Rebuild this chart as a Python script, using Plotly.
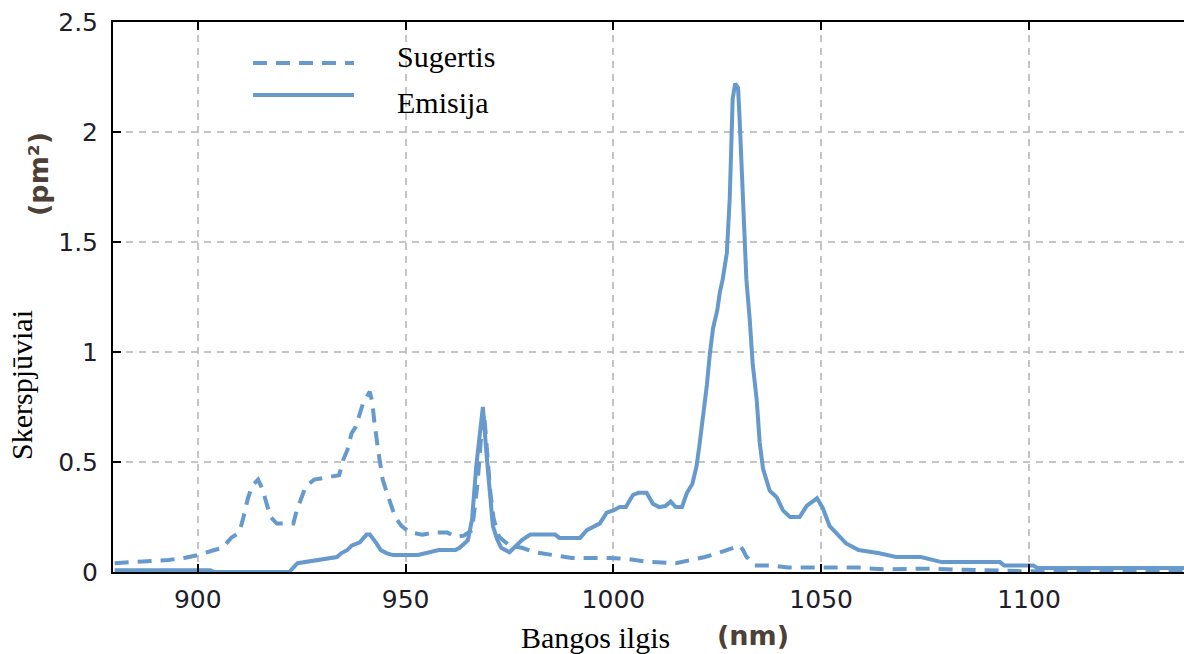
import plotly.graph_objects as go

# ---- data ----
abs_nm = [880, 886, 893, 897, 900, 904, 906, 908, 910, 911, 912, 913, 914.5, 915.5, 916.5, 917.5,
          919, 923, 923.8, 924.8, 926, 928, 931, 934, 935, 936, 937, 938, 939, 939.8, 941.4, 942,
          942.5, 943, 943.5, 944, 944.5, 945.5, 946.5, 947.5, 949, 951, 954, 957, 960, 962, 964,
          966, 967.3, 968.2, 968.9, 969.6, 970.4, 971.2, 972.5, 975, 978, 981, 985, 990, 999, 1003,
          1008, 1015, 1020, 1022, 1025, 1028, 1030.4, 1031.2, 1032, 1034, 1038, 1042, 1048, 1054,
          1059, 1065, 1075, 1085, 1095, 1100, 1110, 1137.5]
abs_val = [0.04, 0.045, 0.055, 0.065, 0.077, 0.10, 0.11, 0.155, 0.18, 0.25, 0.33, 0.39, 0.42, 0.38,
           0.31, 0.25, 0.22, 0.22, 0.28, 0.33, 0.39, 0.42, 0.43, 0.44, 0.51, 0.555, 0.63, 0.66, 0.72,
           0.77, 0.82, 0.77, 0.68, 0.59, 0.54, 0.48, 0.42, 0.36, 0.31, 0.25, 0.21, 0.18, 0.17, 0.18,
           0.18, 0.16, 0.165, 0.19, 0.40, 0.62, 0.72, 0.55, 0.36, 0.24, 0.16, 0.12, 0.11, 0.09, 0.077,
           0.064, 0.064, 0.06, 0.047, 0.04, 0.06, 0.068, 0.085, 0.105, 0.12, 0.10, 0.07, 0.03, 0.03,
           0.02, 0.02, 0.02, 0.02, 0.012, 0.015, 0.01, 0.008, 0.003, 0.0, 0.0]

em_nm = [880, 903, 904, 922, 924, 929, 931, 933.5, 934.5, 936, 937, 939, 940.6, 941.4, 943, 944,
         945.5, 947, 953, 955, 958, 962, 963, 965, 966, 967, 967.9, 968.6, 969.5, 970.3, 971, 972,
         973, 975, 976, 978, 980, 986, 987, 992, 993.6, 996.7, 998.4, 1000, 1001.5, 1003, 1004.7,
         1006, 1008, 1009.5, 1011, 1012.5, 1013.8, 1015, 1016.5, 1017.7, 1019, 1020, 1020.8, 1021.5,
         1022.5, 1023.2, 1024, 1025, 1025.6, 1026.3, 1027.3, 1028, 1028.4, 1028.7, 1029.3, 1030,
         1030.4, 1031, 1032, 1032.8, 1033.5, 1034.5, 1035.2, 1036, 1037.6, 1039.3, 1040.8, 1042.5,
         1044.8, 1046.5, 1049, 1050.4, 1052, 1054.5, 1056, 1059, 1064, 1068, 1074, 1079, 1093, 1094,
         1101, 1102, 1137.5]
em_val = [0.008, 0.008, 0.0, 0.0, 0.04, 0.055, 0.064, 0.068, 0.085, 0.10, 0.12, 0.135, 0.17, 0.17,
          0.13, 0.10, 0.085, 0.077, 0.077, 0.087, 0.10, 0.10, 0.11, 0.145, 0.24, 0.48, 0.65, 0.75,
          0.53, 0.33, 0.21, 0.15, 0.11, 0.09, 0.11, 0.145, 0.17, 0.17, 0.155, 0.155, 0.19, 0.22, 0.27,
          0.28, 0.295, 0.295, 0.35, 0.36, 0.36, 0.31, 0.295, 0.30, 0.32, 0.295, 0.295, 0.36, 0.40,
          0.48, 0.59, 0.69, 0.85, 0.99, 1.11, 1.19, 1.27, 1.33, 1.45, 1.70, 1.9, 2.15, 2.22, 2.2,
          2.05, 1.78, 1.33, 1.15, 0.95, 0.78, 0.59, 0.47, 0.37, 0.34, 0.28, 0.25, 0.25, 0.30, 0.335,
          0.29, 0.21, 0.16, 0.13, 0.10, 0.085, 0.068, 0.068, 0.045, 0.045, 0.03, 0.03, 0.018, 0.018]

series_names = ["Sugertis", "Emisija"]
x_ticks = [900, 950, 1000, 1050, 1100]
y_ticks = [0, 0.5, 1, 1.5, 2, 2.5]
y_tick_text = ["0", "0.5", "1", "1.5", "2", "2.5"]

BLUE = "#6699cc"
GRID = "#c4c4c4"
TICKFONT = dict(family="DejaVu Sans", size=25, color="#1e1e2a")

fig = go.Figure()
fig.add_trace(go.Scatter(x=abs_nm, y=abs_val, mode="lines", name=series_names[0],
                         line=dict(color=BLUE, width=4, dash="14px,9px"), showlegend=False))
fig.add_trace(go.Scatter(x=em_nm, y=em_val, mode="lines", name=series_names[1],
                         line=dict(color=BLUE, width=4), showlegend=False))

fig.update_layout(
    width=1184, height=654,
    margin=dict(l=113, r=0, t=22, b=82),
    paper_bgcolor="white", plot_bgcolor="white",
    xaxis=dict(range=[879.6, 1137.3], tickvals=x_ticks, ticks="inside", ticklen=8, tickwidth=2,
               tickcolor="black", showline=True, linecolor="black", linewidth=2, mirror="ticks",
               showgrid=True, gridcolor=GRID, gridwidth=1.5, griddash="7px,6px",
               zeroline=False, tickfont=TICKFONT, ticklabelstandoff=4),
    yaxis=dict(range=[0, 2.5], tickvals=y_ticks, ticktext=y_tick_text, ticks="inside", ticklen=8,
               tickwidth=2, tickcolor="black", showline=True, linecolor="black", linewidth=2,
               showgrid=True, gridcolor=GRID, gridwidth=1.5, griddash="7px,6px",
               zeroline=False, tickfont=TICKFONT, ticklabelstandoff=8),
)

# legend: white box + sample lines + labels
fig.add_shape(type="rect", xref="paper", yref="paper", layer="between",
              x0=(382 - 113) / 1071, x1=(590 - 113) / 1071, y0=(572 - 129) / 550, y1=(572 - 24) / 550,
              fillcolor="white", line=dict(width=0))
fig.add_shape(type="line", xref="paper", yref="paper",
              x0=(253 - 113) / 1071, x1=(354 - 113) / 1071, y0=(572 - 63) / 550, y1=(572 - 63) / 550,
              line=dict(color=BLUE, width=4, dash="14px,9px"))
fig.add_shape(type="line", xref="paper", yref="paper",
              x0=(253 - 113) / 1071, x1=(354 - 113) / 1071, y0=(572 - 95) / 550, y1=(572 - 95) / 550,
              line=dict(color=BLUE, width=4))

SERIF = dict(family="Liberation Serif", size=30, color="black")
BOLD = dict(family="DejaVu Sans", size=27, color="#4d4036")

def ann(text, px, py, font, xanchor="left", angle=0):
    fig.add_annotation(text=text, xref="paper", yref="paper",
                       x=(px - 113) / 1071, y=(572 - py) / 550, xanchor=xanchor, yanchor="middle",
                       showarrow=False, font=font, textangle=angle)

ann(series_names[0], 395, 57, SERIF)
ann(series_names[1], 395, 103, SERIF)
ann("Bangos ilgis", 595, 637, SERIF, xanchor="center")
ann("<b>(nm)</b>", 753, 635, BOLD, xanchor="center")
ann("Skerspjūviai", 22, 385, SERIF, xanchor="center", angle=-90)
ann("<b>(pm²)</b>", 38, 174, BOLD, xanchor="center", angle=-90)

fig.write_html("out.html")
